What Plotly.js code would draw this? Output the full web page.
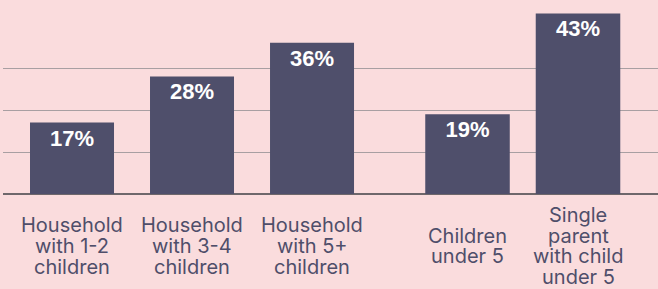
<!DOCTYPE html>
<html><head><meta charset="utf-8">
<script src="https://cdn.plot.ly/plotly-3.0.1.min.js"></script>
<style>html,body{margin:0;padding:0;background:#fadcdd;overflow:hidden}</style>
</head><body><div id="chart" style="width:658px;height:289px"></div>
<script>
// Data
const householdLabels = ["Household<br>with 1-2<br>children", "Household<br>with 3-4<br>children", "Household<br>with 5+<br>children"];
const householdValues = [17, 28, 36];
const childLabels = ["Children<br>under 5", "Single<br>parent<br>with child<br>under 5"];
const childValues = [19, 43];
const gridValues = [0, 10, 20, 30];

// Styles
const bg = '#fadcdd';
const barColor = '#4f4f6b';
const labelColor = '#4f4e6a';
const textFont = {family: 'Liberation Sans, Arial, sans-serif', size: 22, color: '#ffffff', weight: 'bold'};
const labelFont = {family: 'Inter, Roboto, sans-serif', size: 20, color: labelColor};

function barTrace(labels, values, xa, w) {
  return {
    type: 'bar', x: labels, y: values, xaxis: xa, yaxis: 'y',
    width: w,
    marker: {color: barColor},
    text: values.map(v => v + '%'),
    textposition: 'inside', insidetextanchor: 'end',
    textfont: textFont, hoverinfo: 'skip', cliponaxis: false
  };
}

const traces = [
  barTrace(householdLabels, householdValues, 'x', 0.7),
  barTrace(childLabels, childValues, 'x2', 0.765)
];

const lineGap = 20.7, centerOffset = 52;
const annotations = [];
function addLabels(labels, xref) {
  labels.forEach(lab => {
    const lines = lab.split('<br>');
    const n = lines.length;
    lines.forEach((ln, j) => {
      annotations.push({
        xref: xref, yref: 'paper', x: lab, y: 0, yanchor: 'middle', xanchor: 'center',
        yshift: -centerOffset - (j - (n - 1) / 2) * lineGap,
        text: ln, showarrow: false, font: labelFont
      });
    });
  });
}
addLabels(householdLabels, 'x');
addLabels(childLabels, 'x2');

const layout = {
  width: 658, height: 289,
  margin: {l: 3, r: 0, t: 0, b: 95, pad: 0},
  paper_bgcolor: bg, plot_bgcolor: bg,
  showlegend: false,
  xaxis: {type: 'category', range: [-0.575, 4.883], showticklabels: false, showgrid: false, zeroline: false, showline: false, ticks: '', fixedrange: true},
  xaxis2: {type: 'category', overlaying: 'x', anchor: 'y', range: [-4.204, 1.724], showticklabels: false, showgrid: false, zeroline: false, showline: false, ticks: '', fixedrange: true},
  yaxis: {range: [0, 46.2], tickvals: gridValues, showticklabels: false, ticks: '',
          showgrid: true, gridcolor: '#a89fa2', gridwidth: 1,
          zeroline: true, zerolinecolor: '#6e676b', zerolinewidth: 2, fixedrange: true},
  annotations: annotations
};

Plotly.newPlot('chart', traces, layout, {displayModeBar: false, staticPlot: true});
</script>
</body></html>
